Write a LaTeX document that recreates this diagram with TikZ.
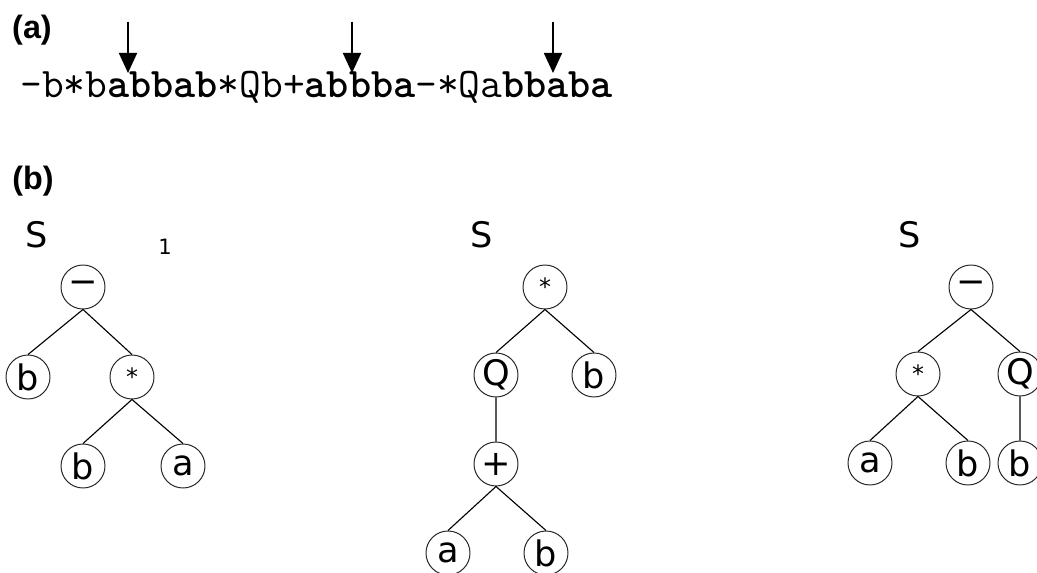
\documentclass[tikz,border=0pt]{standalone}
\usepackage{fontspec}
\newfontfamily\treefont{DejaVu Sans}
\newfontfamily\panelfont{Liberation Sans}
\usetikzlibrary{arrows.meta}
\newcommand\opstar{{\fontsize{17}{17}\selectfont *}}
\begin{document}
\begin{tikzpicture}[x=0.25mm,y=-0.25mm,
	vertex/.style={circle,draw=black!85,line width=0.7pt,minimum size=11mm,inner sep=0pt,font=\treefont\fontsize{25}{25}\selectfont},
	edge/.style={line width=0.8pt},
	pointer/.style={line width=1.2pt,-{Triangle[width=4.5mm,length=5mm]}},
	panel/.style={font=\panelfont\bfseries\fontsize{23}{23}\selectfont},
	start/.style={font=\treefont\fontsize{25}{25}\selectfont}]
	\useasboundingbox (0,0) rectangle (1037,573);
	% (a)
	\node[panel] (pa) at (32,30) {(a)};
	\node[anchor=base west,inner sep=0pt,font=\ttfamily\fontsize{30}{30}\selectfont] (word) at (20,98) {-b*b\textbf{abbab}*Qb+\textbf{abbba}-*Qa\textbf{bbaba}};
	\foreach \x/\n in {128/1,352/2,553/3}{
		\coordinate (top\n) at (\x,22);
		\coordinate (tip\n) at (\x,73);
		\draw[pointer] (top\n) -- (tip\n);
	}
	% (b)
	\node[panel] (pb) at (33,181) {(b)};
	\node[start] (S1) at (37,235) {S};
	\node[start] (S2) at (482,235) {S};
	\node[start] (S3) at (910,235) {S};
	\node[font=\treefont\fontsize{15}{15}\selectfont] (one) at (165,247) {1};
	% left tree
	\node[vertex] (l1) at (83,287) {−};
	\node[vertex] (l2) at (28,377) {b};
	\node[vertex] (l3) at (132,377) {\opstar};
	\node[vertex] (l4) at (83,466) {b};
	\node[vertex] (l5) at (183,466) {a};
	\draw[edge] (l1.south)--(l2.north) (l1.south)--(l3.north)
		(l3.south)--(l4.north) (l3.south)--(l5.north);
	% middle tree
	\node[vertex] (m1) at (545,287) {\opstar};
	\node[vertex] (m2) at (496,375) {Q};
	\node[vertex] (m3) at (594,375) {b};
	\node[vertex] (m4) at (496,464) {+};
	\node[vertex] (m5) at (448,553) {a};
	\node[vertex] (m6) at (546,553) {b};
	\draw[edge] (m1.south)--(m2.north) (m1.south)--(m3.north)
		(m2.south)--(m4.north)
		(m4.south)--(m5.north) (m4.south)--(m6.north);
	% right tree
	\node[vertex] (r1) at (971,287) {−};
	\node[vertex] (r2) at (918,374) {\opstar};
	\node[vertex] (r3) at (1020,374) {Q};
	\node[vertex] (r4) at (870,463) {a};
	\node[vertex] (r5) at (968,463) {b};
	\node[vertex] (r6) at (1020,463) {b};
	\draw[edge] (r1.south)--(r2.north) (r1.south)--(r3.north)
		(r2.south)--(r4.north) (r2.south)--(r5.north)
		(r3.south)--(r6.north);
\end{tikzpicture}
\end{document}
